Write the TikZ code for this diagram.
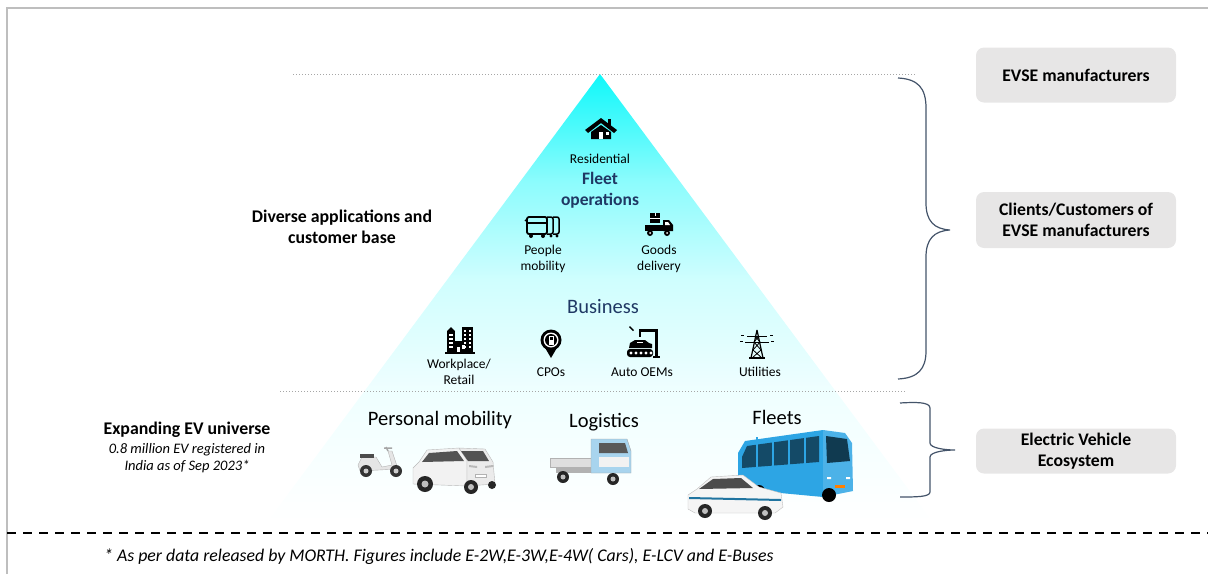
\documentclass[tikz,border=0pt]{standalone}
\usepackage{fontspec}
\setmainfont{Carlito}
\definecolor{navytext}{RGB}{31,56,100}
\definecolor{bracegray}{RGB}{68,84,106}
\definecolor{boxgray}{RGB}{231,230,230}
\definecolor{framegray}{RGB}{190,190,190}
\definecolor{pyrtop}{RGB}{15,248,250}
\definecolor{busblue}{RGB}{45,165,228}
\definecolor{cabblue}{RGB}{168,212,238}
\pgfdeclareverticalshading{pyramid}{100bp}{color(0bp)=(white); color(25bp)=(white); color(40bp)=(pyrtop!7); color(52bp)=(pyrtop!20); color(63bp)=(pyrtop!48); color(75bp)=(pyrtop); color(100bp)=(pyrtop)}
\tikzset{
	sidebox/.style={fill=boxgray, rounded corners=8pt, minimum width=200pt, align=center, inner sep=0pt, font=\fontsize{17.7}{21}\selectfont\bfseries},
	sidenote/.style={align=center, inner sep=0pt, font=\fontsize{17.8}{21}\selectfont\bfseries},
	evnote/.style={align=center, inner sep=0pt, font=\fontsize{14.5}{17}\selectfont\itshape},
	tiertext/.style={align=center, inner sep=0pt, text=navytext},
	iconlabel/.style={align=center, inner sep=0pt, font=\fontsize{13.5}{16}\selectfont},
	segment/.style={inner sep=0pt, font=\fontsize{20.5}{24}\selectfont},
	dotline/.style={draw=gray!70, dotted, line width=1pt},
	brace/.style={draw=bracegray, line width=1.2pt},
	residence/.pic={
		\fill (-16,2) -- (0,-10) -- (16,2) -- (13,5) -- (0,-5) -- (-13,5) -- cycle;
		\fill (-10,4) -- (0,-3) -- (10,4) -- (10,11) -- (-10,11) -- cycle;
		\fill (7,-9) rectangle (10,-2);
		\fill[white] (-2,4) rectangle (2,11);
		\fill[white] (5,4) rectangle (8,7);
	},
	peoplebus/.pic={
		\draw[line width=1.8pt, rounded corners=2pt] (-16,-9) rectangle (4,8);
		\draw[line width=1.5pt] (-16,-3) -- (4,-3);
		\draw[line width=1.5pt, rounded corners=2pt] (4,-9) -- (10,-9) -- (10,8) -- (4,8);
		\draw[line width=1.5pt, rounded corners=2pt] (10,-9) -- (16,-9) -- (16,8) -- (10,8);
		\draw[line width=1.2pt] (-16,-7) -- (-18,-5);
		\fill (-12,10) circle (2) (0,10) circle (2) (8,10) circle (1.6) (14,10) circle (1.6);
	},
	goodstruck/.pic={
		\fill (-9,-12) rectangle (1,-2);
		\draw[white, line width=0.8pt] (-9,-7) -- (1,-7) (-4,-12) -- (-4,-9);
		\fill (-14,0) rectangle (4,6);
		\fill (4,-5) -- (10,-5) -- (14,0) -- (14,6) -- (4,6) -- cycle;
		\fill[white] (6,-3) -- (9,-3) -- (11,0) -- (6,0) -- cycle;
		\fill (-9,8) circle (3) (8,8) circle (3);
		\fill[white] (-9,8) circle (1) (8,8) circle (1);
	},
	offices/.pic={
		\fill (-13,-9) rectangle (-5,13);
		\fill (-13,-9) -- (-9,-13) -- (-5,-9) -- cycle;
		\fill (2,-13) rectangle (13,13);
		\fill (-6,1) rectangle (6,13);
		\foreach \wy in {-10,-6,...,6} {\fill[white] (4,\wy) rectangle (6,\wy+2); \fill[white] (9,\wy) rectangle (11,\wy+2);}
		\foreach \wy in {-6,-2,...,6} {\fill[white] (-11,\wy) rectangle (-7,\wy+1.5);}
		\fill[white] (-3,7) rectangle (0,13);
		\fill[white] (2,5) rectangle (5,9);
		\fill (-15,12) rectangle (15,14);
	},
	chargepin/.pic={
		\fill (0,-3) circle (10.5);
		\fill (-7,3) -- (7,3) -- (0,15) -- cycle;
		\fill[white] (0,-3) circle (7.5);
		\fill (0,-3) circle (6);
		\fill[white] (-2.5,-7) rectangle (2.5,2);
		\fill (-1.5,-6) rectangle (1.5,-3);
	},
	robotline/.pic={
		\fill[rounded corners=3pt] (-16,6) rectangle (10,14);
		\foreach \cx in {-12,-7,...,8} {\fill[white] (\cx,10) circle (1.6);}
		\fill (-14,5) -- (-13,0) -- (-8,-3) -- (2,-3) -- (6,0) -- (9,1) -- (9,5) -- cycle;
		\fill[white] (-6,-1.5) rectangle (0,0);
		\fill (12,-12) rectangle (15,14);
		\fill (-4,-14) rectangle (15,-11);
		\fill (-4,-11) rectangle (-2,-6);
		\fill (-14,-16) -- (-10,-12) -- (-9,-13) -- (-13,-17) -- cycle;
		\fill (10,13) rectangle (17,15);
	},
	pylon/.pic={
		\draw[line width=1.2pt] (0,-14) -- (-6,14) (0,-14) -- (6,14);
		\draw[line width=1pt] (-10,-8) -- (10,-8) (-12,-2) -- (12,-2);
		\draw[line width=0.8pt] (-2,-8) -- (3,-2) (2,-8) -- (-3,-2) (-3,-2) -- (4,6) (3,-2) -- (-4,6) (-4,6) -- (5,14) (4,6) -- (-5,14);
		\draw[line width=0.8pt] (-16,-9) -- (-13,-9) (13,-9) -- (16,-9) (-17,-3) -- (-14,-3) (14,-3) -- (17,-3);
		\draw[line width=1.5pt] (-8,14) -- (8,14);
	},
	scooter/.pic={
		\fill[gray!20, draw=gray!60] (-22,2) -- (-18,-6) -- (-4,-6) -- (2,4) -- (12,2) -- (8,-12) -- (12,-12) -- (18,6) -- (-20,8) -- cycle;
		\fill[black!70] (-20,-9) rectangle (-6,-5);
		\draw[gray!70, line width=1.5pt] (8,-12) -- (6,-16) (4,-15) -- (12,-15);
		\fill[black!80] (-14,8) circle (6) (16,8) circle (6);
		\fill[gray!40] (-14,8) circle (2.5) (16,8) circle (2.5);
	},
	suv/.pic={
		\fill[gray!10, draw=gray!55] (-40,14) -- (-40,-2) -- (-34,-8) -- (-26,-20) -- (6,-22) -- (14,-10) -- (14,16) -- cycle;
		\fill[gray!16, draw=gray!55] (14,-10) -- (6,-22) -- (32,-21) -- (40,-8) -- (42,14) -- (14,16) -- cycle;
		\fill[gray!65!black] (8,-19) -- (30,-19) -- (36,-9) -- (15,-9) -- cycle;
		\fill[gray!65!black] (-31,-8) -- (-24,-17) -- (4,-19) -- (11,-9) -- cycle;
		\fill[gray!55] (16,-5) -- (24,-4) -- (24,-2) -- (16,-3) -- cycle;
		\fill[gray!55] (32,-4) -- (40,-5) -- (40,-3) -- (32,-2) -- cycle;
		\fill[white, draw=gray!60] (22,4) rectangle (33,7);
		\fill[black!85] (-28,14) circle (8) (18,17) circle (7) (39,15) circle (4);
		\fill[gray!50] (-28,14) circle (3.5) (18,17) circle (3);
	},
	pickup/.pic={
		\fill[gray!25, draw=gray!60] (-41,-3) rectangle (2,6);
		\fill[gray!60] (-35,6) rectangle (40,12);
		\fill[cabblue, draw=gray!70] (0,-22) -- (36,-22) -- (40,-10) -- (40,12) -- (0,12) -- cycle;
		\fill[gray!70!black] (8,-18) -- (34,-18) -- (37,-8) -- (8,-8) -- cycle;
		\fill[gray!10] (8,-4) rectangle (38,6);
		\fill[black!85] (-28,16) circle (6) (22,18) circle (6);
		\fill[gray!50] (-28,16) circle (2.5) (22,18) circle (2.5);
	},
	ebus/.pic={
		\fill[busblue] (-57,26) -- (-57,-10) -- (-50,-22) -- (28,-33) -- (28,34) -- cycle;
		\fill[busblue!85!white] (28,-33) -- (50,-30) -- (57,-20) -- (58,28) -- (28,34) -- cycle;
		\fill[busblue!45!black] (-53,-6) -- (-48,-17) -- (24,-27) -- (24,-1) -- (-53,5) -- cycle;
		\foreach \px in {-38,-22,...,20} {\draw[busblue, line width=1.2pt] (\px,-26) -- (\px,4);}
		\fill[busblue!35!black] (31,-27) -- (52,-24) -- (55,-2) -- (32,0) -- cycle;
		\fill[orange] (40,22) rectangle (50,25);
		\fill[white] (32,14) rectangle (36,16) (51,14) rectangle (55,16);
		\fill[black] (-36,28) circle (6) (34,32) circle (7);
	},
	taxi/.pic={
		\fill[gray!8, draw=gray!50] (-47,14) -- (-47,0) -- (-38,-6) -- (-24,-18) -- (8,-20) -- (24,-8) -- (46,-2) -- (48,12) -- (40,18) -- (-40,18) -- cycle;
		\fill[gray!60!black] (-36,-6) -- (-22,-16) -- (6,-17) -- (18,-7) -- cycle;
		\fill[busblue!70!black] (-46,2) -- (46,4) -- (46,6) -- (-46,4) -- cycle;
		\fill[black!85] (-30,16) circle (7) (30,18) circle (7);
		\fill[gray!50] (-30,16) circle (3) (30,18) circle (3);
	}
}
\begin{document}
\begin{tikzpicture}[x=1pt, y=-1pt]
	\useasboundingbox (0,0) rectangle (1208,574);
	\draw[framegray, line width=1.5pt] (7,574) -- (7,8) -- (1208,8);
	\coordinate (apex) at (600,74);
	\coordinate (baseL) at (268,521);
	\coordinate (baseR) at (932,521);
	\shade[shading=pyramid] (baseL) -- (apex) -- (baseR) -- cycle;
	\draw[dotline] (293,74) -- (915,74);
	\draw[dotline] (280,391) -- (905,391);
	\draw[line width=1.6pt, dash pattern=on 9pt off 7pt] (7,533) -- (1208,533);

	\pic at (601,128) {residence};
	\pic at (543,226) {peoplebus};
	\pic at (659,225) {goodstruck};
	\pic at (460,340) {offices};
	\pic at (551,343) {chargepin};
	\pic at (643,343) {robotline};
	\pic at (757,344) {pylon};

	\node[iconlabel] (resid) at (600,159) {Residential};
	\node[tiertext, font=\fontsize{17.5}{21}\selectfont\bfseries] (fleetops) at (600,190) {Fleet\\operations};
	\node[iconlabel] (people) at (543,259) {People\\mobility};
	\node[iconlabel] (goods) at (659,259) {Goods\\delivery};
	\node[tiertext, font=\fontsize{20.5}{24}\selectfont] (business) at (603,307) {Business};
	\node[iconlabel] (workplace) at (459,372) {Workplace/\\Retail};
	\node[iconlabel] (cpos) at (551,372) {CPOs};
	\node[iconlabel] (oems) at (642,372) {Auto OEMs};
	\node[iconlabel] (utilities) at (760,372) {Utilities};
	\node[sidenote] (diverse) at (342,227) {Diverse applications and\\customer base};

	\pic at (380,463) {scooter};
	\pic at (453,470) {suv};
	\pic at (591,461) {pickup};
	\pic at (795,463) {ebus};
	\pic at (735,495) {taxi};
	\node[segment] (personal) at (440,420) {Personal mobility};
	\node[segment] (logistics) at (604,422) {Logistics};
	\node[segment] (fleets) at (777,417) {Fleets};
	\node[sidenote] (expand) at (187,430) {Expanding EV universe};
	\node[evnote] (evcount) at (187,458) {0.8 million EV registered in\\India as of Sep 2023*};

	\draw[brace] (898,78) .. controls (918,79) and (926,88) .. (926,108) -- (926,203) .. controls (926,221) and (934,229) .. (950,230) .. controls (934,231) and (926,239) .. (926,257) -- (926,351) .. controls (926,369) and (918,378) .. (898,379);
	\draw[brace] (900,403) .. controls (916,402) and (930,402) .. (930,408) -- (930,443) .. controls (930,448) and (945,450) .. (955,450) .. controls (945,450) and (930,452) .. (930,457) -- (930,492) .. controls (930,497) and (916,497) .. (900,497);

	\node[sidebox, minimum height=55pt] (evse) at (1076,75) {EVSE manufacturers};
	\node[sidebox, minimum height=56pt] (clients) at (1076,220) {Clients/Customers of\\EVSE manufacturers};
	\node[sidebox, minimum height=45pt] (ecosys) at (1076,451) {Electric Vehicle\\Ecosystem};

	\node[evnote, anchor=west, font=\fontsize{17.8}{21}\selectfont\itshape] (footnote) at (104,557) {* As per data released by MORTH. Figures include E-2W,E-3W,E-4W( Cars), E-LCV and E-Buses};
\end{tikzpicture}
\end{document}
